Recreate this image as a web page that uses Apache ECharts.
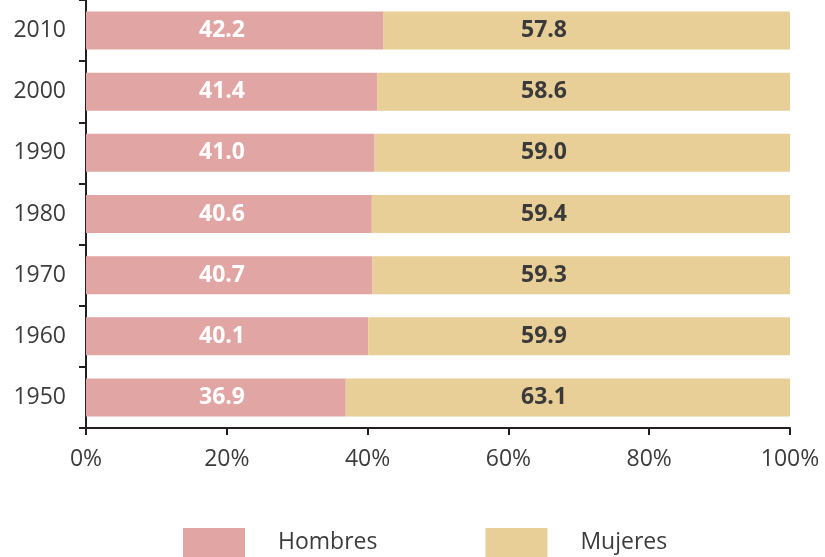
<!DOCTYPE html>
<html>
<head>
<meta charset="utf-8">
<script src="https://cdn.jsdelivr.net/npm/echarts@6/dist/echarts.min.js"></script>
<style>
  html, body { margin: 0; padding: 0; background: #fff; }
  #chart { width: 825px; height: 557px; }
</style>
</head>
<body>
<div id="chart"></div>
<script>
// datos (porcentajes)
const years = ['1950', '1960', '1970', '1980', '1990', '2000', '2010']
const hombres = [36.9, 40.1, 40.7, 40.6, 41.0, 41.4, 42.2]
const mujeres = [63.1, 59.9, 59.3, 59.4, 59.0, 58.6, 57.8]
const xTicks = [0, 20, 40, 60, 80, 100]

const axisColor = '#231f20'
const textColor = '#3c3c3c'
const font = 'Open Sans'

const chart = echarts.init(document.getElementById('chart'))
chart.setOption({
  animation: false,
  grid: {
    left: 86,
    right: 35,
    top: 0,
    bottom: 129
  },
  legend: {
    top: 528,
    left: 183,
    padding: 0,
    icon: 'rect',
    itemWidth: 62,
    itemHeight: 29,
    itemGap: 108,
    selectedMode: false,
    textStyle: {
      fontFamily: font,
      fontSize: 23,
      color: textColor,
      padding: [0, 0, 0, 28]
    },
    data: ['Hombres', 'Mujeres']
  },
  xAxis: {
    type: 'value',
    min: 0,
    max: 100,
    interval: 20,
    splitLine: { show: false },
    axisLine: {
      show: true,
      lineStyle: { color: axisColor, width: 2 }
    },
    axisTick: {
      show: true,
      length: 7,
      lineStyle: { color: axisColor, width: 2 }
    },
    axisLabel: {
      fontFamily: font,
      fontSize: 23,
      color: textColor,
      margin: 20,
      formatter: function(v) {
        return xTicks.indexOf(v) >= 0 ? v + '%' : ''
      }
    }
  },
  yAxis: {
    type: 'category',
    data: years,
    axisLine: {
      show: true,
      lineStyle: { color: axisColor, width: 2 }
    },
    axisTick: {
      show: true,
      length: 7,
      lineStyle: { color: axisColor, width: 2 }
    },
    axisLabel: {
      fontFamily: font,
      fontSize: 23,
      color: textColor,
      margin: 20
    }
  },
  series: [
    {
      name: 'Hombres',
      type: 'bar',
      stack: 'total',
      barWidth: 38,
      itemStyle: { color: '#e1a5a3' },
      label: {
        show: true,
        position: 'insideLeft',
        distance: 113,
        fontFamily: font,
        fontSize: 23,
        fontWeight: 'bold',
        color: '#fff',
        formatter: function(p) { return p.value.toFixed(1) }
      },
      data: hombres
    },
    {
      name: 'Mujeres',
      type: 'bar',
      stack: 'total',
      barWidth: 38,
      itemStyle: { color: '#e8ce97' },
      label: {
        show: true,
        position: 'insideRight',
        distance: 223,
        fontFamily: font,
        fontSize: 23,
        fontWeight: 'bold',
        color: '#3a3a3a',
        formatter: function(p) { return p.value.toFixed(1) }
      },
      data: mujeres
    }
  ]
})
</script>
</body>
</html>
